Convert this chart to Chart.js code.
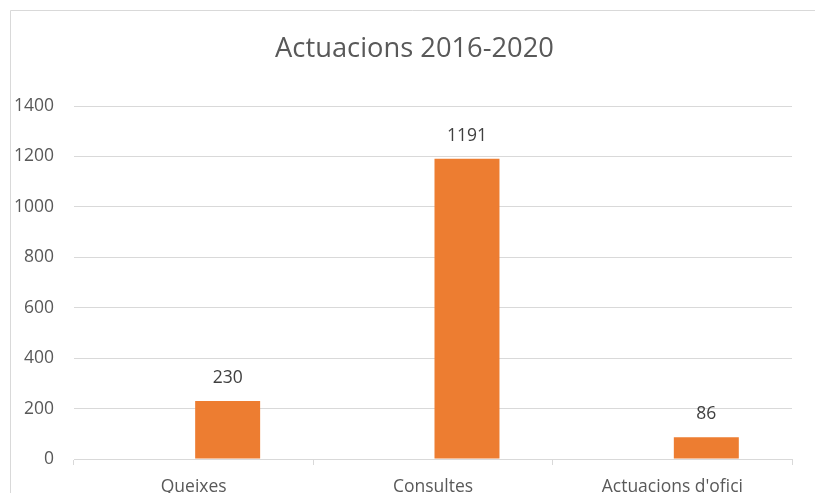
<!DOCTYPE html>
<html>
<head>
<meta charset="utf-8">
<script src="https://cdn.jsdelivr.net/npm/chart.js@4"></script>
<style>
  html, body { margin: 0; padding: 0; background: #ffffff; }
  canvas { display: block; }
</style>
</head>
<body>
<canvas id="c" width="815" height="493"></canvas>
<script>
const chartTitle = "Actuacions 2016-2020";
const categories = ["Queixes", "Consultes", "Actuacions d'ofici"];
const emptySeries = [null, null, null];
const actuacions = [230, 1191, 86];
const yTicks = [0, 200, 400, 600, 800, 1000, 1200, 1400];

const FONT = "'Open Sans', 'Noto Sans', sans-serif";
const GRID = "#d9d9d9";

const framePlugin = {
  id: 'frame',
  beforeDraw(chart) {
    const ctx = chart.ctx;
    ctx.save();
    ctx.fillStyle = '#ffffff';
    ctx.fillRect(0, 0, chart.width, chart.height);
    ctx.strokeStyle = GRID;
    ctx.lineWidth = 1;
    ctx.beginPath();
    ctx.moveTo(10.5, chart.height);
    ctx.lineTo(10.5, 10.5);
    ctx.lineTo(chart.width, 10.5);
    ctx.stroke();
    ctx.fillStyle = '#595959';
    ctx.font = "27.3px " + FONT;
    ctx.textAlign = 'center';
    ctx.textBaseline = 'alphabetic';
    ctx.fillText(chartTitle, 414.5, 57);
    ctx.restore();
  }
};

const labelPlugin = {
  id: 'valueLabels',
  afterDatasetsDraw(chart) {
    const ctx = chart.ctx;
    const meta = chart.getDatasetMeta(1);
    const data = chart.data.datasets[1].data;
    ctx.save();
    ctx.fillStyle = '#404040';
    ctx.font = "17.5px " + FONT;
    ctx.textAlign = 'center';
    ctx.textBaseline = 'middle';
    meta.data.forEach((bar, i) => {
      ctx.fillText(String(data[i]), bar.x, bar.y - 23);
    });
    ctx.restore();
  }
};

new Chart(document.getElementById('c'), {
  type: 'bar',
  data: {
    labels: categories,
    datasets: [
      { label: '', data: emptySeries, backgroundColor: 'rgba(0,0,0,0)' },
      { label: 'Actuacions', data: actuacions, backgroundColor: '#ED7D31',
        borderWidth: 0 }
    ]
  },
  options: {
    responsive: false,
    animation: false,
    events: [],
    categoryPercentage: 0.568,
    barPercentage: 0.956,
    layout: { padding: { left: 0, right: 23, top: 106, bottom: 0 } },
    plugins: {
      legend: { display: false },
      title: { display: false },
      tooltip: { enabled: false }
    },
    scales: {
      x: {
        grid: {
          display: true,
          offset: true,
          drawOnChartArea: false,
          drawTicks: true,
          tickLength: 6,
          color: GRID
        },
        border: { display: true, color: GRID },
        ticks: {
          color: '#595959',
          font: { family: FONT, size: 17.5 },
          padding: 12,
          maxRotation: 0
        },
        afterFit(scale) { scale.height = 34; }
      },
      y: {
        min: 0,
        max: 1400,
        afterBuildTicks(scale) { scale.ticks = yTicks.map(v => ({ value: v })); },
        grid: { color: GRID, drawTicks: false },
        border: { display: false },
        ticks: {
          color: '#595959',
          font: { family: FONT, size: 17.5 },
          padding: 20,
          callback: (v) => String(v)
        },
        afterFit(scale) { scale.width = 74; }
      }
    }
  },
  plugins: [framePlugin, labelPlugin]
});
</script>
</body>
</html>
